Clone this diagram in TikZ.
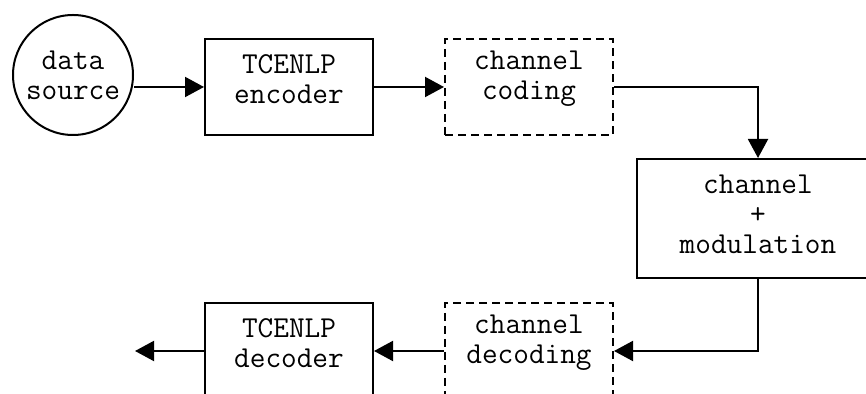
\documentclass[tikz,border=0pt]{standalone}
\usetikzlibrary{arrows.meta}
\begin{document}
\begin{tikzpicture}[x=0.5pt,y=-0.5pt,
      every node/.style={font=\ttfamily\fontsize{15.2}{15}\selectfont},
      blk/.style={draw,line width=1pt,minimum width=84pt,minimum height=48pt,inner sep=0pt},
      dblk/.style={blk,dash pattern=on 4pt off 2.5pt},
      txt/.style={label={[align=center,yshift=4pt]center:#1}},
      src/.style={shape=circle,draw,line width=1pt,minimum size=60pt,
        inner sep=0pt,align=center},
      flow/.style={line width=1pt,-{Triangle[length=9.5pt,width=10pt]}}]
      \useasboundingbox (0,0) rectangle (866,394);
      \node[src] (data) at (73,75) {data\\source};
      \node[blk,txt={TCENLP\\encoder}] (enc) at (289,87) {};
      \node[dblk,txt={channel\\coding}] (cc) at (529,87) {};
      \node[blk,minimum width=121pt,minimum height=59.5pt,
        label={[align=center,yshift=2pt]center:channel\\+\\modulation}] (mod) at (758,218.5) {};
      \node[dblk,txt={channel\\decoding}] (cd) at (529,351) {};
      \node[blk,txt={TCENLP\\decoder}] (dec) at (289,351) {};
      \coordinate (out) at (135,351);
      \draw[flow] (data.east |- enc.west) -- (enc.west);
      \draw[flow] (enc) -- (cc);
      \draw[flow] (cc.east) -| (mod.north);
      \draw[flow] (mod.south) |- (cd.east);
      \draw[flow] (cd) -- (dec);
      \draw[flow] (dec) -- (out);
    \end{tikzpicture}
\end{document}
